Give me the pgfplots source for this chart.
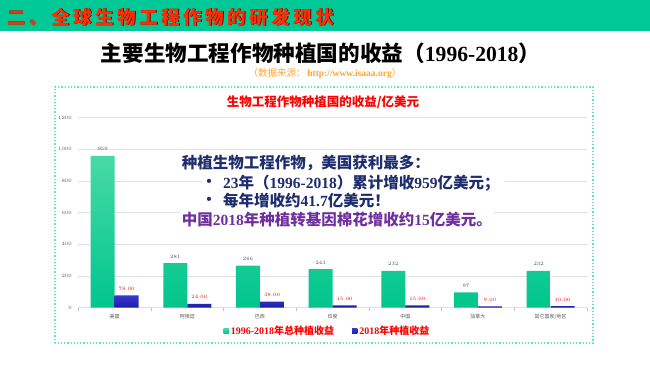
\documentclass[border=0pt]{standalone}
\usepackage{fontspec}
\usepackage{pgfplots}
\pgfplotsset{compat=1.18}
\setmainfont{Noto Sans CJK SC}
\newfontfamily\tnr{Liberation Serif}
\definecolor{hdrgreen}{RGB}{0,201,151}
\definecolor{gtop}{RGB}{72,217,166}
\definecolor{gbot}{RGB}{0,198,140}
\definecolor{btop}{RGB}{55,55,210}
\definecolor{bbot}{RGB}{30,30,170}
\definecolor{navy}{RGB}{31,45,110}
\definecolor{purp}{RGB}{112,48,160}
\definecolor{srcorange}{RGB}{255,165,50}
\definecolor{boxgreen}{RGB}{100,225,195}
\definecolor{hdrred}{RGB}{255,45,0}
\begin{document}
\begin{tikzpicture}[x=1pt,y=1pt]
\useasboundingbox (0,0) rectangle (650,365);
\fill[white] (0,0) rectangle (650,365);
\fill[hdrgreen] (0,334) rectangle (650,365);
\node[anchor=west, text=black!55!red, inner sep=0] at (7.8,347.2) {\fontsize{18.5}{20}\selectfont\bfseries\addfontfeature{LetterSpace=19}二、全球生物工程作物的研发现状};
\node[anchor=west, text=hdrred, inner sep=0] at (7,348) {\fontsize{18.5}{20}\selectfont\bfseries\addfontfeature{LetterSpace=19}二、全球生物工程作物的研发现状};
\node at (320.5,312) {\fontsize{21.6}{24}\selectfont\bfseries 主要生物工程作物种植国的收益（{\tnr\bfseries 1996-2018}）};
\node[text=srcorange] at (325,292) {\fontsize{9.5}{11}\selectfont（数据来源：\,{\tnr\bfseries http://www.isaaa.org}）};
\draw[boxgreen, line width=1.2pt, dotted] (55,22) rectangle (593,278);
\node[text=red] at (323,263) {\fontsize{12.5}{14}\selectfont\bfseries 生物工程作物种植国的收益/亿美元};
\begin{axis}[at={(78.3pt,57.3pt)}, anchor=south west, scale only axis,
  width=508.7pt, height=190pt,
  xmin=-0.5, xmax=6.5, ymin=0, ymax=1200,
  ybar=0pt, bar width=24pt,
  xtick={0,...,6},
  xticklabels={美国,阿根廷,巴西,印度,中国,加拿大,其它国家/地区},
  minor xtick={-0.5,0.5,...,6.5},
  ytick={0,200,...,1200},
  /pgf/number format/1000 sep={},
  ymajorgrids, major grid style={black!12, line width=0.6pt},
  extra y ticks={0}, extra y tick labels={}, extra y tick style={grid style={black!22, line width=0.6pt}},
  axis line style={draw=none},
  tick align=outside, xtick pos=left, ytick pos=left,
  major tick length=0pt, minor tick length=3pt,
  minor tick style={black!25, line width=0.5pt},
  xticklabel style={font=\fontsize{5}{6}\selectfont, text=black!65, yshift=-3pt},
  yticklabel style={font=\fontsize{5.5}{6}\selectfont, text=black!65, xshift=-3pt},
  clip=false,
  legend style={at={(0.49,-0.1226)}, anchor=center, draw=none, fill=none,
    legend columns=2, font=\fontsize{10}{12}\selectfont\bfseries,
    /tikz/every even column/.append style={column sep=16pt}},
]
\addplot[draw=none, top color=gtop, bottom color=gbot,
  nodes near coords,
  every node near coord/.append style={font=\fontsize{5.5}{6}\selectfont, text=black!70, yshift=1.5pt},
  legend image code/.code={\fill[gbot] (0pt,-2.6pt) rectangle (5.2pt,2.6pt);}]
  coordinates {(0,959) (1,281) (2,266) (3,243) (4,232) (5,97) (6,232)};
\addlegendentry{\textcolor{red}{{\tnr\bfseries 1996-2018}年总种植收益}}
\addplot[draw=none, top color=btop, bottom color=bbot,
  nodes near coords={\pgfmathprintnumber[fixed,fixed zerofill,precision=2]{\pgfplotspointmeta}},
  every node near coord/.append style={font=\fontsize{5.5}{6}\selectfont, text=red, yshift=1.5pt},
  legend image code/.code={\fill[bbot] (0pt,-2.6pt) rectangle (5.2pt,2.6pt);}]
  coordinates {(0,78) (1,24) (2,38) (3,15) (4,15) (5,9) (6,10)};
\addlegendentry{\textcolor{red}{{\tnr\bfseries 2018}年种植收益}}
\end{axis}
\fill[white] (202,155) rectangle (505,193);
\node[anchor=west, inner sep=0, text=navy] at (181.7,202.3) {\fontsize{15.5}{18}\selectfont\bfseries 种植生物工程作物，美国获利最多：};
\node[inner sep=0, text=navy] at (209,181.7) {\fontsize{15.5}{18}\selectfont\tnr\bfseries •};
\node[anchor=west, inner sep=0, text=navy] at (223,181.7) {\fontsize{15.5}{18}\selectfont\bfseries {\tnr\bfseries 23}年（{\tnr\bfseries 1996-2018}）累计增收{\tnr\bfseries 959}亿美元；};
\node[inner sep=0, text=navy] at (209,164.3) {\fontsize{15.5}{18}\selectfont\tnr\bfseries •};
\node[anchor=west, inner sep=0, text=navy] at (223,164.3) {\fontsize{15.5}{18}\selectfont\bfseries 每年增收约{\tnr\bfseries 41.7}亿美元！};
\node[anchor=west, inner sep=2pt, fill=white, text=purp] at (179.7,145) {\fontsize{15.5}{18}\selectfont\bfseries 中国{\tnr\bfseries 2018}年种植转基因棉花增收约{\tnr\bfseries 15}亿美元。};
\end{tikzpicture}
\end{document}
